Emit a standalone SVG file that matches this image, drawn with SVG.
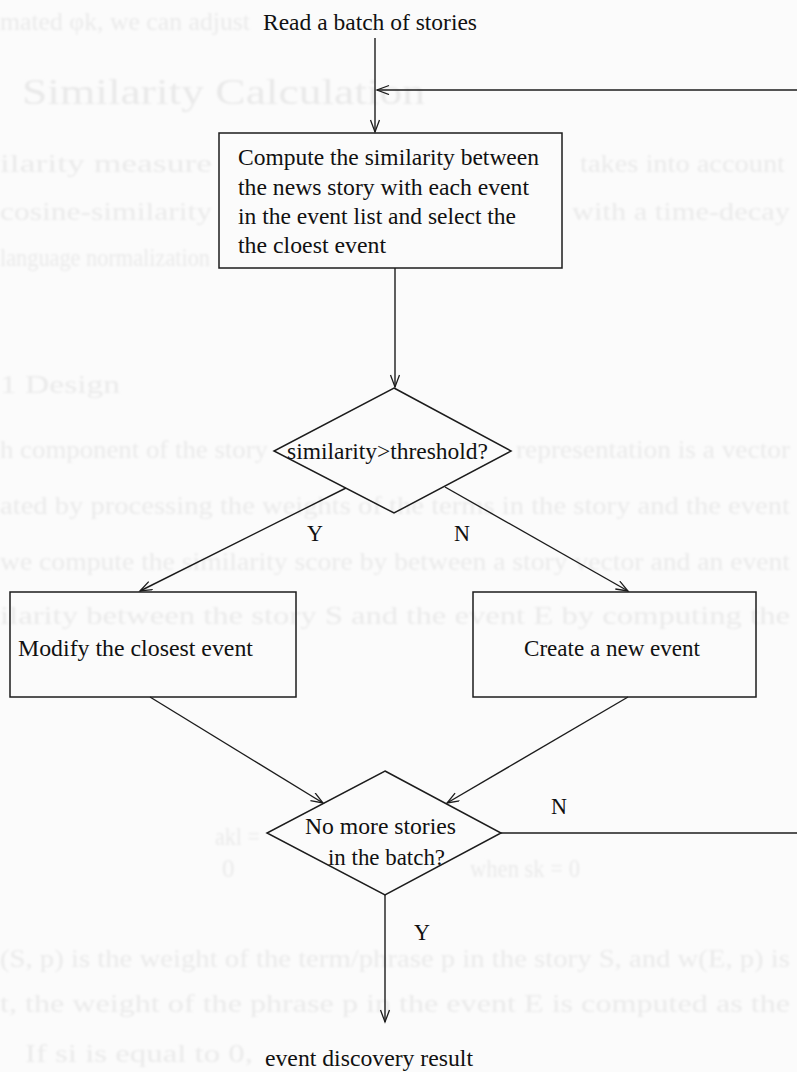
<svg xmlns="http://www.w3.org/2000/svg" width="797" height="1072" viewBox="0 0 797 1072">
  <style>
    .page { fill: #fbfbfb; }
    .ghost { font-family: "Liberation Serif", "DejaVu Serif", serif; font-size: 25px; fill: #eaeaea; }
    .ghost-h { font-family: "Liberation Serif", "DejaVu Serif", serif; font-size: 36px; fill: #e9e9e9; }
    .shape { fill: none; stroke: #1c1c1c; stroke-width: 1.5; }
    .wire { fill: none; stroke: #1c1c1c; stroke-width: 1.4; }
    .label { font-family: "Liberation Serif", "Times New Roman", serif; font-size: 24px; fill: #111; }
  </style>
  <defs>
    <marker id="arrow" markerUnits="userSpaceOnUse" markerWidth="16" markerHeight="12" refX="13" refY="5" orient="auto">
      <path d="M1,0.5 L13,5 L1,9.5" fill="none" stroke="#1c1c1c" stroke-width="1.3"/>
    </marker>
    <filter id="soft" x="-5%" y="-50%" width="110%" height="200%">
      <feGaussianBlur stdDeviation="1"/>
    </filter>
  </defs>

  <rect class="page" x="0" y="0" width="797" height="1072"/>

  <!-- faint print from the reverse side of the sheet -->
  <g id="reverse-print" filter="url(#soft)">
    <text class="ghost" x="0" y="30" textLength="250" lengthAdjust="spacingAndGlyphs">mated φk, we can adjust</text>
    <text class="ghost-h" x="22" y="104" textLength="403" lengthAdjust="spacingAndGlyphs">Similarity Calculation</text>
    <text class="ghost" x="0" y="172" textLength="212" lengthAdjust="spacingAndGlyphs">ilarity measure</text>
    <text class="ghost" x="580" y="172" textLength="205" lengthAdjust="spacingAndGlyphs">takes into account</text>
    <text class="ghost" x="0" y="220" textLength="212" lengthAdjust="spacingAndGlyphs">cosine-similarity</text>
    <text class="ghost" x="572" y="220" textLength="218" lengthAdjust="spacingAndGlyphs">with a time-decay</text>
    <text class="ghost" x="0" y="266" textLength="210" lengthAdjust="spacingAndGlyphs">language normalization</text>
    <text class="ghost" x="0" y="393" font-size="28" textLength="120" lengthAdjust="spacingAndGlyphs">1 Design</text>
    <text class="ghost" x="0" y="458" textLength="268" lengthAdjust="spacingAndGlyphs">h component of the story</text>
    <text class="ghost" x="516" y="458" textLength="274" lengthAdjust="spacingAndGlyphs">representation is a vector</text>
    <text class="ghost" x="0" y="514" textLength="790" lengthAdjust="spacingAndGlyphs">ated by processing the weights of the terms in the story and the event</text>
    <text class="ghost" x="0" y="570" textLength="790" lengthAdjust="spacingAndGlyphs">we compute the similarity score by between a story vector and an event</text>
    <text class="ghost" x="0" y="624" textLength="790" lengthAdjust="spacingAndGlyphs">ilarity between the story S and the event E by computing the</text>
    <text class="ghost" x="215" y="845" textLength="45" lengthAdjust="spacingAndGlyphs">akl =</text>
    <text class="ghost" x="222" y="877">0</text>
    <text class="ghost" x="470" y="877" textLength="110" lengthAdjust="spacingAndGlyphs">when  sk = 0</text>
    <text class="ghost" x="0" y="967" textLength="790" lengthAdjust="spacingAndGlyphs">(S, p) is the weight of the term/phrase p in the story S, and w(E, p) is</text>
    <text class="ghost" x="0" y="1012" textLength="790" lengthAdjust="spacingAndGlyphs">t, the weight of the phrase p in the event E is computed as the</text>
    <text class="ghost" x="25" y="1062" textLength="228" lengthAdjust="spacingAndGlyphs">If si is equal to 0,</text>
  </g>

  <!-- connectors -->
  <g id="connectors">
    <line class="wire" x1="375" y1="38" x2="375" y2="132" marker-end="url(#arrow)"/>
    <line class="wire" x1="797" y1="90" x2="377" y2="90" marker-end="url(#arrow)"/>
    <line class="wire" x1="395" y1="268" x2="395" y2="387" marker-end="url(#arrow)"/>
    <line class="wire" x1="346" y1="488" x2="140" y2="591" marker-end="url(#arrow)"/>
    <line class="wire" x1="445" y1="487" x2="628" y2="591" marker-end="url(#arrow)"/>
    <line class="wire" x1="150" y1="697" x2="323" y2="803" marker-end="url(#arrow)"/>
    <line class="wire" x1="628" y1="697" x2="447" y2="803" marker-end="url(#arrow)"/>
    <line class="wire" x1="501" y1="833" x2="797" y2="833"/>
    <line class="wire" x1="385" y1="895" x2="385" y2="1022" marker-end="url(#arrow)"/>
    <text class="label" x="307" y="541" textLength="16" lengthAdjust="spacingAndGlyphs">Y</text>
    <text class="label" x="454" y="541" textLength="16" lengthAdjust="spacingAndGlyphs">N</text>
    <text class="label" x="551" y="814" textLength="16" lengthAdjust="spacingAndGlyphs">N</text>
    <text class="label" x="414" y="940" textLength="16" lengthAdjust="spacingAndGlyphs">Y</text>
  </g>

  <g id="start">
    <text class="label" x="263" y="30" font-size="25" textLength="214" lengthAdjust="spacingAndGlyphs">Read a batch of stories</text>
  </g>

  <g id="compute">
    <rect class="shape" x="219" y="133" width="343" height="135"/>
    <text class="label" x="238" y="165" textLength="301" lengthAdjust="spacingAndGlyphs">Compute the similarity between</text>
    <text class="label" x="238" y="195" textLength="291" lengthAdjust="spacingAndGlyphs">the news story with each event</text>
    <text class="label" x="238" y="224" textLength="278" lengthAdjust="spacingAndGlyphs">in the event list and select the</text>
    <text class="label" x="238" y="253" textLength="148" lengthAdjust="spacingAndGlyphs">the cloest event</text>
  </g>

  <g id="threshold">
    <polygon class="shape" points="394,388 511,451 394,513 274,451"/>
    <text class="label" x="287" y="459" textLength="201" lengthAdjust="spacingAndGlyphs">similarity&gt;threshold?</text>
  </g>

  <g id="modify">
    <rect class="shape" x="10" y="592" width="286" height="105"/>
    <text class="label" x="18" y="656" textLength="235" lengthAdjust="spacingAndGlyphs">Modify the closest event</text>
  </g>

  <g id="create">
    <rect class="shape" x="473" y="592" width="283" height="105"/>
    <text class="label" x="524" y="656" textLength="176" lengthAdjust="spacingAndGlyphs">Create a new event</text>
  </g>

  <g id="more-stories">
    <polygon class="shape" points="385,771 501,833 385,895 267,833"/>
    <text class="label" x="305" y="834" textLength="151" lengthAdjust="spacingAndGlyphs">No more stories</text>
    <text class="label" x="328" y="865" textLength="117" lengthAdjust="spacingAndGlyphs">in the batch?</text>
  </g>

  <g id="result">
    <text class="label" x="265" y="1066" textLength="208" lengthAdjust="spacingAndGlyphs">event discovery result</text>
  </g>
</svg>
